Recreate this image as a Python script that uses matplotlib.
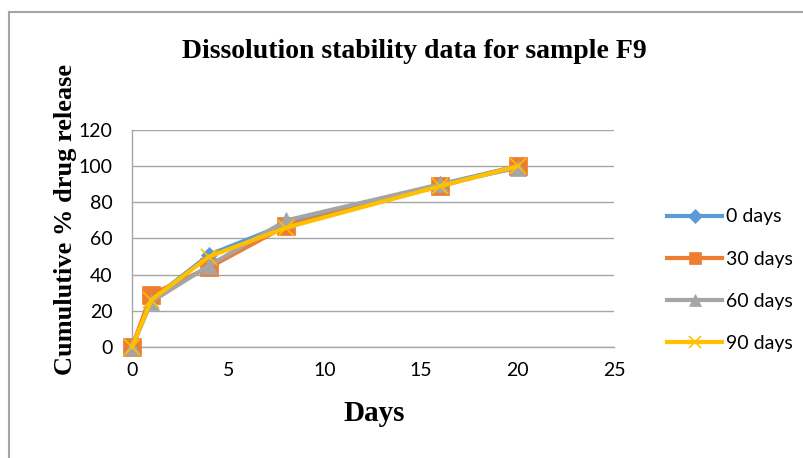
import matplotlib
matplotlib.use("Agg")
import matplotlib.pyplot as plt
from matplotlib.lines import Line2D

# sampling days and release values per storage period
days = [0, 1, 4, 8, 16, 20]
release_0 = [0, 26, 51, 68, 90, 100]
release_30 = [0, 29, 44, 67, 89, 100]
release_60 = [0, 25, 45, 70, 90, 99]
release_90 = [0, 26, 50, 66, 89, 100]
series_names = ["0 days", "30 days", "60 days", "90 days"]

colors = ["#5B9BD5", "#ED7D31", "#A5A5A5", "#FFC000"]
markers = ["D", "s", "^", "x"]
msizes = [8, 13, 12, 12]

fig = plt.figure(figsize=(8.04, 4.58), dpi=100)
ax = fig.add_axes([0.1642, 0.2424, 0.5995, 0.4738])

for vals, name, c, m, ms in zip([release_0, release_30, release_60, release_90],
                                series_names, colors, markers, msizes):
    ax.plot(days, vals, color=c, lw=3, marker=m, markersize=ms,
            markeredgewidth=1.2 if m == "x" else 0.5, markeredgecolor=c,
            label=name, zorder=3, clip_on=False)

ax.set_xlim(0, 25)
ax.set_ylim(0, 120)
ax.set_xticks([0, 5, 10, 15, 20, 25])
ax.set_yticks(range(0, 121, 20))
ax.grid(axis="y", color="#A6A6A6", lw=1)
ax.set_axisbelow(True)
for s in ["top", "right"]:
    ax.spines[s].set_visible(False)
for s in ["left", "bottom"]:
    ax.spines[s].set_color("#A6A6A6")
    ax.spines[s].set_linewidth(1)
ax.tick_params(length=0, labelsize=14)
ax.tick_params(axis="y", pad=14)
ax.tick_params(axis="x", pad=11)
for lab in ax.get_xticklabels() + ax.get_yticklabels():
    lab.set_fontfamily("Lato")

fig.text(0.515, 0.888, "Dissolution stability data for sample F9", ha="center",
         va="center", family="Liberation Serif", weight="bold", fontsize=20)
fig.text(0.081, 0.52, "Cumulutive % drug release", rotation=90, ha="center",
         va="center", family="Liberation Serif", weight="bold", fontsize=19)
fig.text(0.465, 0.098, "Days", ha="center", va="center",
         family="Liberation Serif", weight="bold", fontsize=21)

handles = [Line2D([0], [0], color=c, lw=3, marker=m, markersize=9 if m != "D" else 7,
                  markeredgecolor=c, markeredgewidth=1.2 if m == "x" else 0.5)
           for c, m in zip(colors, markers)]
leg = fig.legend(handles, series_names, loc="center left", bbox_to_anchor=(0.818, 0.388),
                 frameon=False, handlelength=2.8, handletextpad=0.2, labelspacing=1.3,
                 borderpad=0, prop={"family": "Lato", "size": 14})

# outer chart border (left and top edges visible)
fig.add_artist(Line2D([0.0112, 0.0112], [0, 0.974], color="#A6A6A6", lw=1.5,
                      transform=fig.transFigure))
fig.add_artist(Line2D([0.0112, 1.0], [0.974, 0.974], color="#A6A6A6", lw=1.5,
                      transform=fig.transFigure))

fig.savefig("out.png", dpi=100)
